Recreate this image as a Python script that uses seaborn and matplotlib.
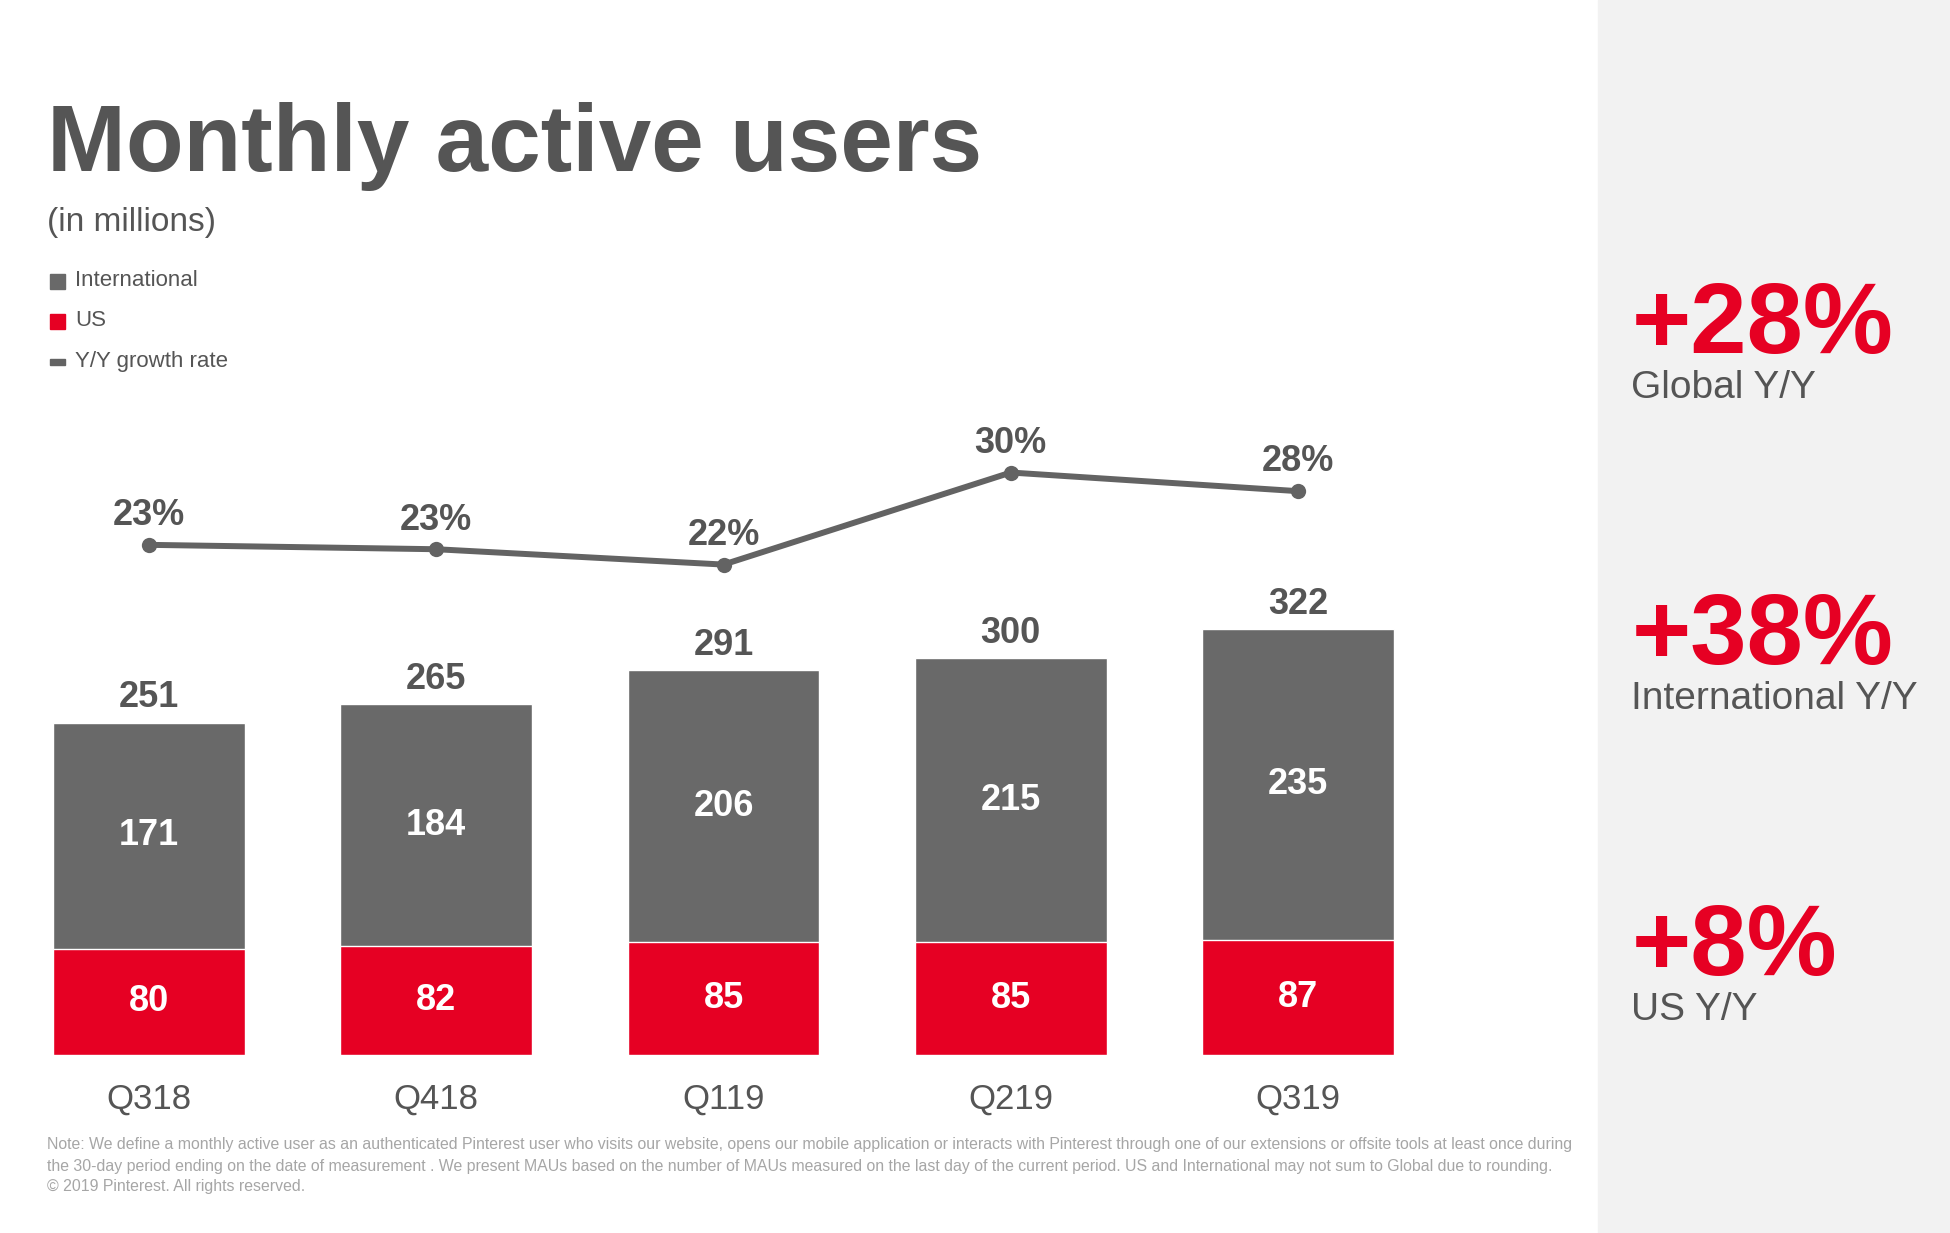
import numpy as np
import pandas as pd
import seaborn as sns
import matplotlib.pyplot as plt
from matplotlib.patches import Rectangle

# data
quarters = ["Q318", "Q418", "Q119", "Q219", "Q319"]
us = [80, 82, 85, 85, 87]
international = [171, 184, 206, 215, 235]
total = [251, 265, 291, 300, 322]
growth = [23.4, 23.0, 21.6, 30.0, 28.3]

headline_values = ["+28%", "+38%", "+8%"]
headline_labels = ["Global Y/Y", "International Y/Y", "US Y/Y"]

notes = [
    "Note: We define a monthly active user as an authenticated Pinterest user who visits our website, opens our mobile application or interacts with Pinterest through one of our extensions or offsite tools at least once during",
    "the 30-day period ending on the date of measurement . We present MAUs based on the number of MAUs measured on the last day of the current period. US and International may not sum to Global due to rounding.",
    "\u00a9 2019 Pinterest. All rights reserved.",
]

RED = "#e60023"
GRAY = "#696969"
LINE = "#636363"
TEXT = "#555555"

sns.set_theme(style="white")
plt.rcParams["font.family"] = ["Liberation Sans", "DejaVu Sans"]

df = pd.DataFrame({"quarter": quarters, "US": us, "International": international,
                   "Total": total, "growth": growth})

W, H = 1950, 1233
fig = plt.figure(figsize=(W / 100, H / 100), dpi=100, facecolor="white")

# grey side panel
fig.add_artist(Rectangle((1598 / W, 0), 1 - 1598 / W, 1, transform=fig.transFigure,
                         color="#f2f2f2", zorder=0))

ax = fig.add_axes([0.0028, 0.1447, 0.7365, 0.5572])
ax.patch.set_alpha(0)
sns.barplot(data=df, x="quarter", y="Total", color=GRAY, width=0.668,
            saturation=1, errorbar=None, ax=ax)
sns.barplot(data=df, x="quarter", y="US", color=RED, width=0.668,
            saturation=1, errorbar=None, ax=ax)
ax.set_ylim(0, 520)

for i, row in df.iterrows():
    ax.text(i, row.US / 2, f"{row.US}", ha="center", va="center",
            color="white", fontsize=26, fontweight="bold")
    ax.text(i, (row.US + row.Total) / 2, f"{row.International}", ha="center",
            va="center", color="white", fontsize=26, fontweight="bold")
    ax.annotate(f"{row.Total}", (i, row.Total), xytext=(0, 18),
                textcoords="offset points", ha="center", va="center",
                color=TEXT, fontsize=26, fontweight="bold")

ax2 = ax.twinx()
sns.lineplot(x=np.arange(len(quarters)), y=growth, ax=ax2, color=LINE,
             linewidth=4.3, marker="o", markersize=11, markeredgewidth=0)
ax2.set_ylim(-23.12, 39.58)
for i, g in enumerate(growth):
    ax2.annotate(f"{g:.0f}%", (i, g), xytext=(0, 21), textcoords="offset points",
                 ha="center", va="center", color=TEXT, fontsize=26,
                 fontweight="bold")

for a in (ax, ax2):
    sns.despine(ax=a, left=True, bottom=True, right=True, top=True)
    a.set_yticks([])
    a.set_xlabel("")
    a.set_ylabel("")
ax.set_xlim(-0.5, 4.5)
ax.tick_params(axis="x", length=0, pad=20, labelsize=25, labelcolor=TEXT)

# title block
fig.text(47 / W, 1 - 171 / H, "Monthly active users", fontsize=68,
         fontweight="bold", color=TEXT, va="baseline")
fig.text(47 / W, 1 - 223 / H, "(in millions)", fontsize=24, color=TEXT,
         va="center")

# legend
legend_items = [("International", GRAY, 15), ("US", RED, 15), ("Y/Y growth rate", LINE, 6)]
for (label, col, h), yc in zip(legend_items, [281, 321, 362]):
    fig.add_artist(Rectangle((50 / W, 1 - (yc + h / 2) / H), 15 / W, h / H,
                             transform=fig.transFigure, color=col))
    fig.text(75 / W, 1 - yc / H, label, fontsize=16, color=TEXT, va="center")

# headline numbers on the right
for val, lab, base in zip(headline_values, headline_labels, [353, 664, 975]):
    fig.text(1632 / W, 1 - base / H, val, fontsize=73, fontweight="bold",
             color=RED, va="baseline")
    fig.text(1631 / W, 1 - (base + 45) / H, lab, fontsize=28,
             color=TEXT, va="baseline")

# footnote
for line, yc in zip(notes, [1145, 1166, 1187]):
    fig.text(47 / W, 1 - yc / H, line, fontsize=11.4, color="#a6a6a6", va="center")

fig.savefig("out.png", dpi=100)
